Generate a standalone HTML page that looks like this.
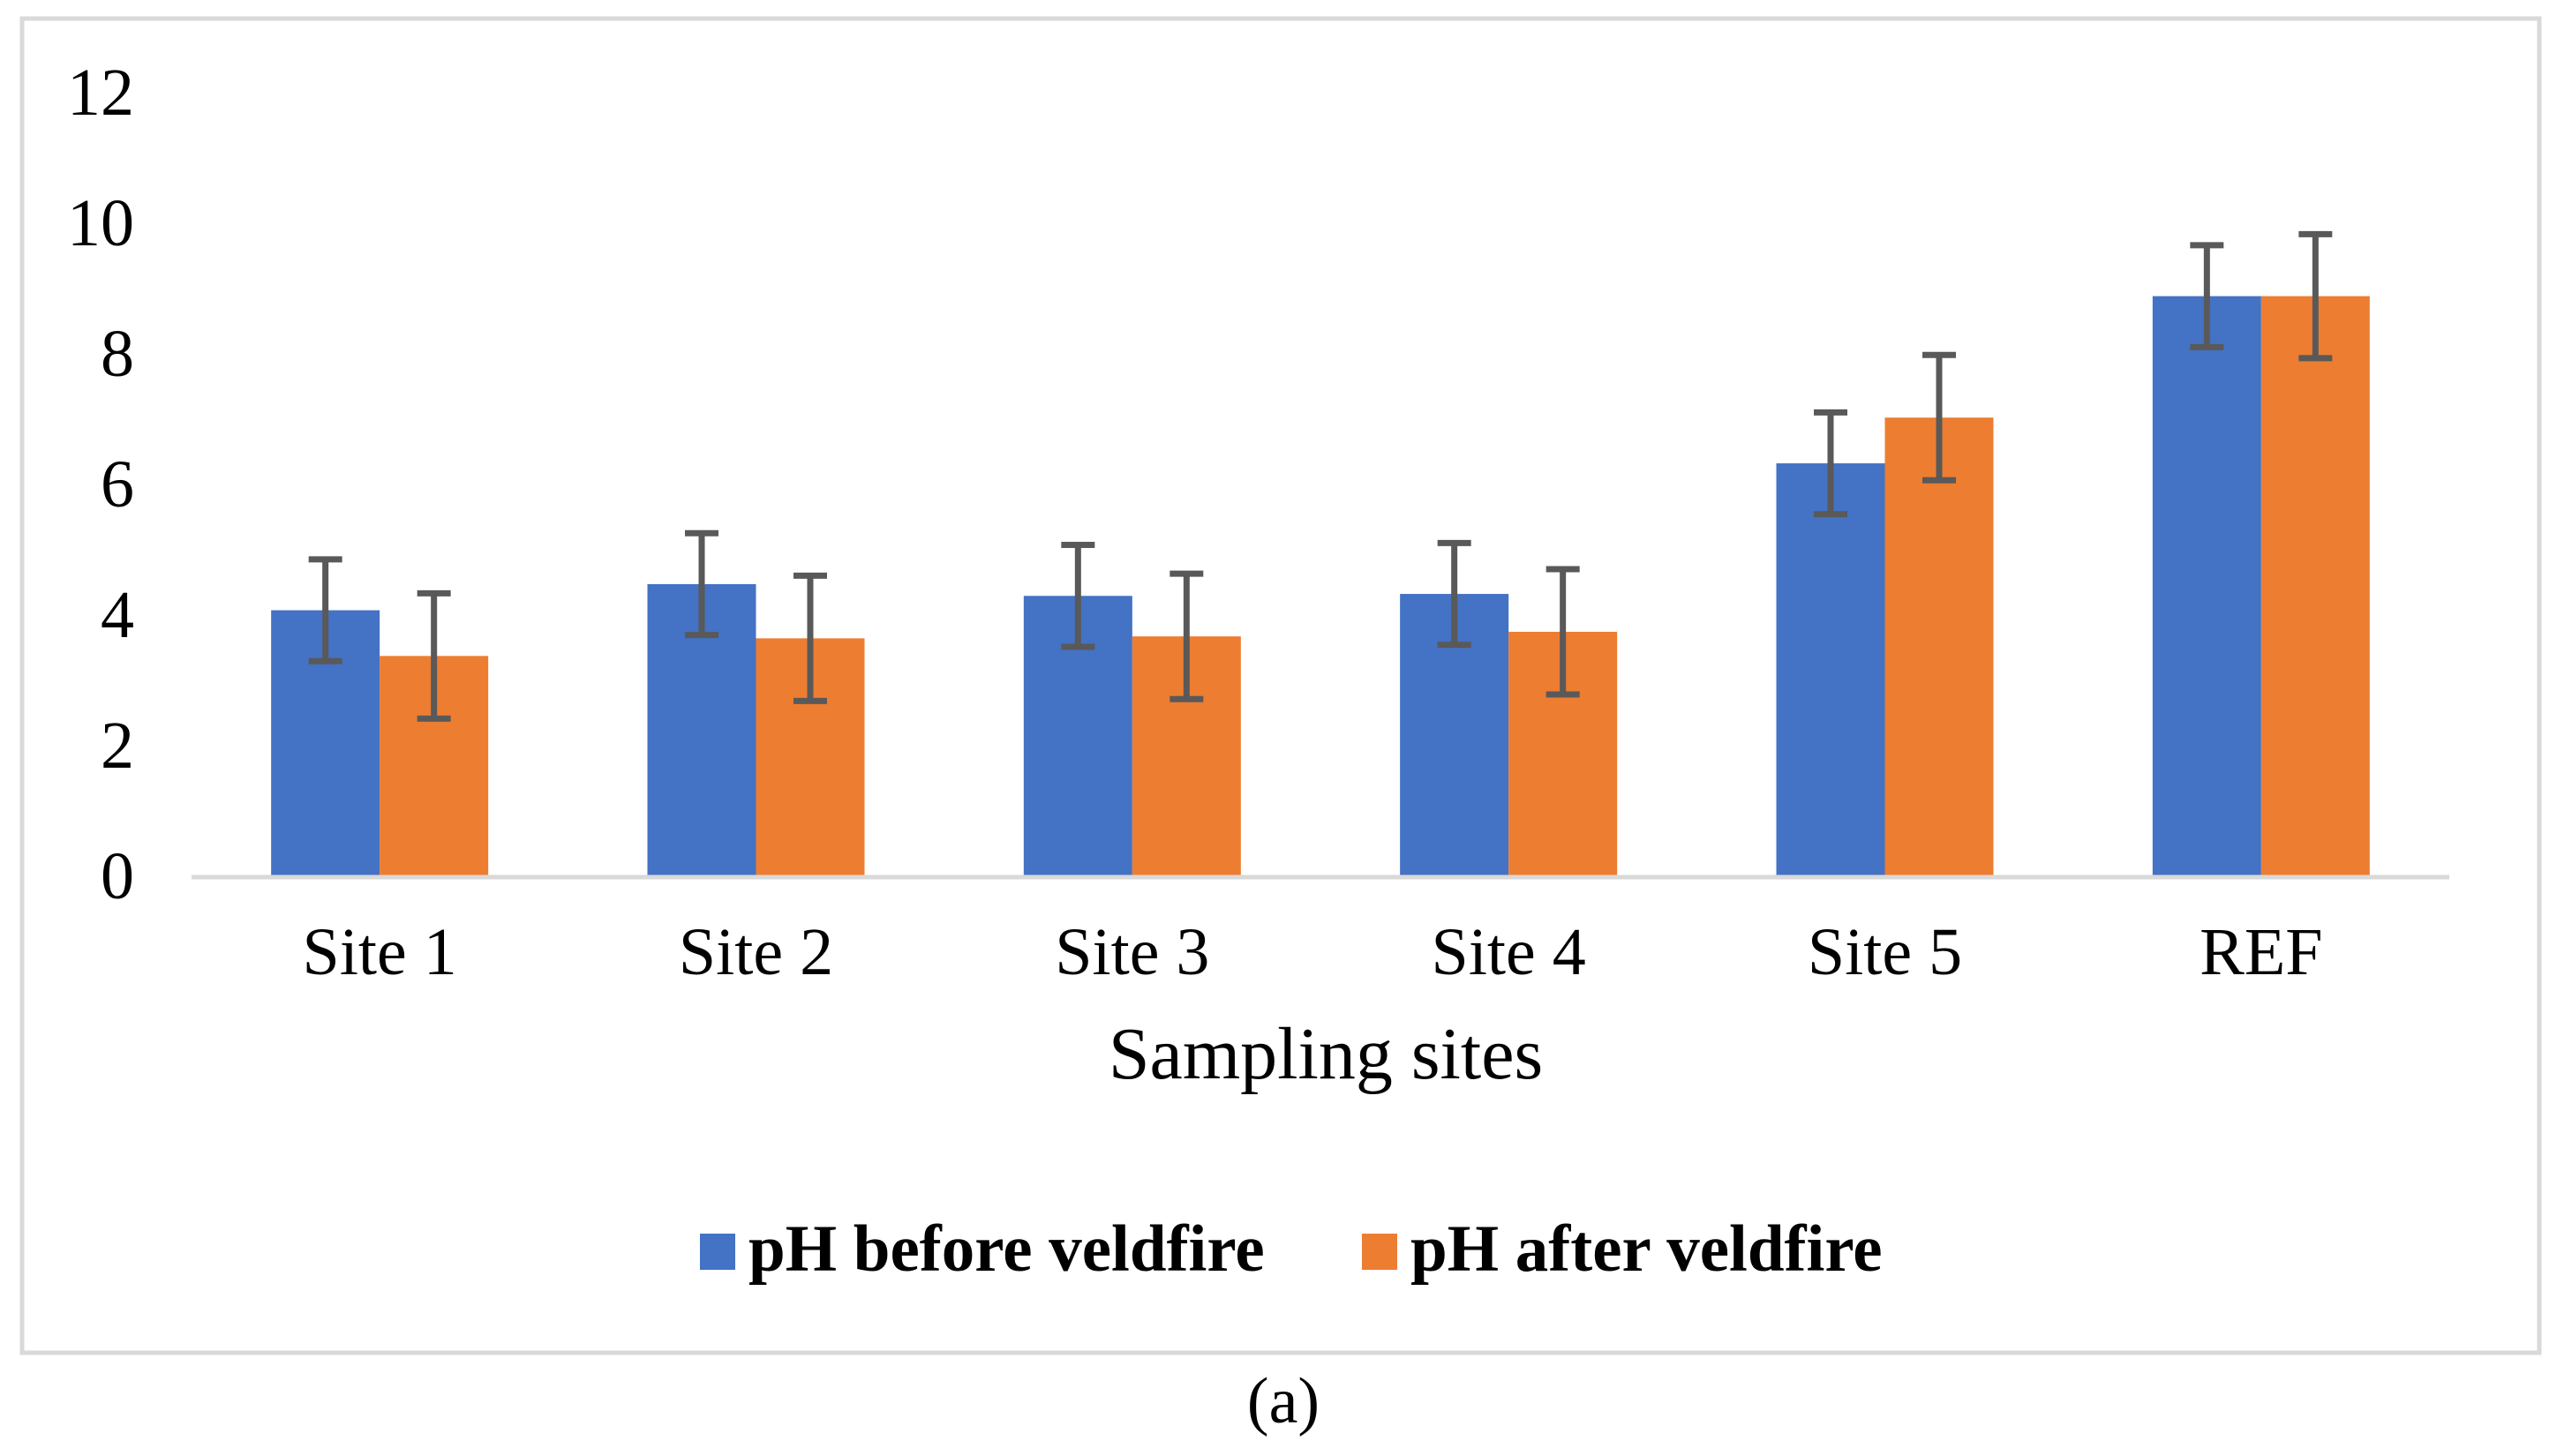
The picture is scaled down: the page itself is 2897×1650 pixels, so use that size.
<!DOCTYPE html>
<html><head><meta charset="utf-8"><style>
html,body{margin:0;padding:0;background:#fff;}
svg{display:block;font-family:"Liberation Serif",serif;}
</style></head><body>
<svg id="chart" width="2897" height="1650" viewBox="0 0 2897 1650" xmlns="http://www.w3.org/2000/svg">
<rect x="25" y="21" width="2852" height="1512" fill="#fff" stroke="#d9d9d9" stroke-width="5"/>
<g id="yaxis"></g>
<g id="bars"></g>
<line x1="217" y1="994" x2="2775" y2="994" stroke="#d9d9d9" stroke-width="5"/>
<g id="xaxis"></g>
<text x="1502" y="1222" font-size="84" text-anchor="middle">Sampling sites</text>
<g>
<g>
<rect x="793" y="1398" width="40" height="41" fill="#4472c4"/>
<text x="848" y="1440" font-size="75" font-weight="bold">pH before veldfire</text></g>
<g>
<rect x="1543" y="1398" width="40" height="41" fill="#ed7d31"/>
<text x="1598" y="1440" font-size="75" font-weight="bold">pH after veldfire</text></g>
</g>
<text x="1454" y="1612" font-size="74" text-anchor="middle">(a)</text>
</svg>
<script>
const categories = ["Site 1","Site 2","Site 3","Site 4","Site 5","REF"];
const before = [4.06, 4.46, 4.28, 4.31, 6.31, 8.87];
const beforeErr = [0.78, 0.78, 0.78, 0.78, 0.78, 0.78];
const after = [3.36, 3.63, 3.66, 3.73, 7.01, 8.87];
const afterErr = [0.96, 0.96, 0.96, 0.96, 0.96, 0.95];
const yTicks = [0, 2, 4, 6, 8, 10, 12];

const NS = "http://www.w3.org/2000/svg";
const x0 = 217, x1 = 2775, yBase = 992, yTop = 104, yMax = 12;
const y = v => yBase - (yBase - yTop) * v / yMax;
const band = (x1 - x0) / categories.length;
const cx = i => x0 + band * (i + 0.5);
const bw = 123;
function mk(tag, attrs, parent){const e=document.createElementNS(NS,tag);for(const k in attrs)e.setAttribute(k,attrs[k]);parent.appendChild(e);return e;}

const ya = document.getElementById('yaxis');
yTicks.forEach(t=>{
  const e = mk('text',{x:152,y:y(t)+26,'font-size':76,'text-anchor':'end'},ya);
  
  
  e.textContent = t;
});
const xa = document.getElementById('xaxis');
categories.forEach((c,i)=>{
  const e = mk('text',{x:cx(i),y:1104,'font-size':76,'text-anchor':'middle'},xa);
  
  
  e.textContent = c;
});
const bg = document.getElementById('bars');
function drawSeries(vals, errs, color, off, name){
  vals.forEach((v,i)=>{
    const bx = cx(i) + off;
    const r = mk('rect',{x:bx,y:y(v),width:bw,height:yBase - y(v),fill:color},bg);
    
    
    const m = bx + bw/2, hi = y(v + errs[i]), lo = y(v - errs[i]);
    const g = mk('g',{stroke:'#595959','stroke-width':7},bg);
    
    
    mk('line',{x1:m,y1:hi,x2:m,y2:lo},g);
    mk('line',{x1:m-19,y1:hi,x2:m+19,y2:hi},g);
    mk('line',{x1:m-19,y1:lo,x2:m+19,y2:lo},g);
  });
}
drawSeries(before, beforeErr, '#4472c4', -bw, 'before');
drawSeries(after, afterErr, '#ed7d31', 0, 'after');
</script>
</body></html>
